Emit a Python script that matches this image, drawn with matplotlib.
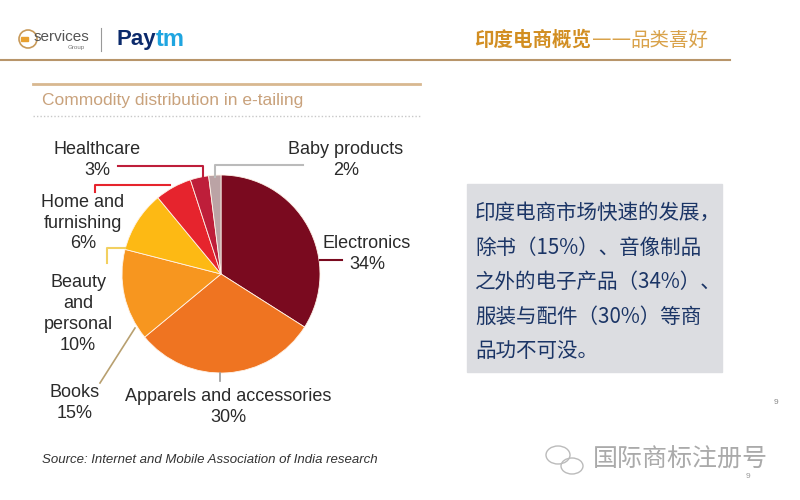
import matplotlib.pyplot as plt
from matplotlib.patches import Rectangle, Circle, Ellipse

plt.rcParams['font.family'] = ['Liberation Sans', 'Noto Sans CJK SC', 'DejaVu Sans']

# pie data
categories = ['Electronics', 'Apparels and accessories', 'Books', 'Beauty and personal',
              'Home and furnishing', 'Healthcare', 'Baby products']
shares = [34, 30, 15, 10, 6, 3, 2]
colors = ['#7A0A1F', '#EF7421', '#F7961F', '#FDB914', '#E6242D', '#BE1E3A', '#BBA3A5']

# label text as in the slide (line breaks)
label_text = ['Electronics\n34%', 'Apparels and accessories\n30%', 'Books\n15%',
              'Beauty\nand\npersonal\n10%', 'Home and\nfurnishing\n6%', 'Healthcare\n3%',
              'Baby products\n2%']
label_pos = [(367, 254), (228, 407), (75, 403), (78, 314), (83, 223), (97, 160), (346, 160)]

box_lines = ['印度电商市场快速的发展，', '除书（15%）、音像制品', '之外的电子产品（34%）、',
             '服装与配件（30%）等商', '品功不可没。']

fig = plt.figure(figsize=(8, 5), dpi=100)
ax = fig.add_axes([0, 0, 1, 1])
ax.set_xlim(0, 800)
ax.set_ylim(500, 0)
ax.set_aspect('equal')
ax.axis('off')

# header
ax.add_patch(Circle((28, 39), 9, fill=False, ec='#C89A5A', lw=1.2))
ax.add_patch(Rectangle((21, 37), 7, 4, color='#E8A030'))
ax.text(34, 37, 'services', fontsize=11, color='#555555', va='center')
ax.text(76, 48, 'Group', fontsize=4.5, color='#777777', va='center', ha='center')
ax.plot([101, 101], [28, 51], color='#999999', lw=0.8)
ax.text(116, 39, 'Pay', fontsize=16, fontweight='bold', color='#0B2A6B', va='center')
ax.text(156, 39, 'tm', fontsize=17, fontweight='bold', color='#1FA5E0', va='center')
ax.text(474, 40, '印度电商概览', fontsize=14, fontweight='bold', color='#D28E22',
        va='center', family=['Noto Sans CJK SC'])
ax.text(592, 40, '——', fontsize=14, color='#D9A24A', va='center', family=['DejaVu Sans'])
ax.text(630, 40, '品类喜好', fontsize=14, color='#D9A24A',
        va='center', family=['Noto Sans CJK SC'])
ax.plot([0, 730], [60, 60], color='#B8956A', lw=1.5)

# chart panel
ax.plot([33, 420], [84, 84], color='#D8B890', lw=2)
ax.text(42, 101, 'Commodity distribution in e-tailing', fontsize=12.5, color='#C9A27C', va='center')
ax.plot([33, 420], [116, 116], color='#C8C8C8', lw=1, ls=(0, (1, 1.5)))

ax.pie(shares, colors=colors, startangle=-90, counterclock=True, center=(221, 274),
       radius=99, wedgeprops=dict(ec='#FFF3E8', lw=0.6), frame=True)
ax.set_xlim(0, 800)
ax.set_ylim(500, 0)
ax.axis('off')

for txt, (x, y) in zip(label_text, label_pos):
    ax.text(x, y, txt, fontsize=13, color='#2A2A2A', ha='center', va='center', linespacing=1.3)

# leader lines
ax.plot([118, 203, 203], [166, 166, 180], color='#BE1E3A', lw=1.5)
ax.plot([303, 215, 215], [165, 165, 177], color='#BBBBBB', lw=1.5)
ax.plot([95, 95, 170], [192, 185, 185], color='#E6242D', lw=1.5)
ax.plot([107, 107, 125], [263, 248, 248], color='#F2D060', lw=1.5)
ax.plot([320, 342], [260, 260], color='#7A0A1F', lw=1.5)
ax.plot([100, 135], [383, 328], color='#B8A070', lw=1.2)
ax.plot([220, 220], [373, 381], color='#999999', lw=1.2)

ax.text(42, 460, 'Source: Internet and Mobile Association of India research', fontsize=9.5,
        style='italic', color='#333333', va='center')

# text box
ax.add_patch(Rectangle((467, 184), 255, 188, color='#DCDDE1', zorder=1))
for i, line in enumerate(box_lines):
    ax.text(475, 213 + i * 34.5, line, fontsize=14.8, color='#1B3566', va='center',
            family=['Noto Sans CJK SC', 'DejaVu Sans'], zorder=2)

# page number and watermark
ax.text(776, 403, '9', fontsize=6, color='#888888', ha='center', va='center')
ax.add_patch(Ellipse((558, 455), 24, 18, fill=False, ec='#BBBBBB', lw=1))
ax.add_patch(Ellipse((572, 466), 22, 16, fill=False, ec='#BBBBBB', lw=1, fc='white'))
ax.text(593, 460, '国际商标注册号', fontsize=18, color='#AAAAAA', va='center',
        family=['Noto Sans CJK SC'])
ax.text(748, 477, '9', fontsize=6, color='#999999', ha='center', va='center')

fig.savefig('out.png', dpi=100, facecolor='white')
